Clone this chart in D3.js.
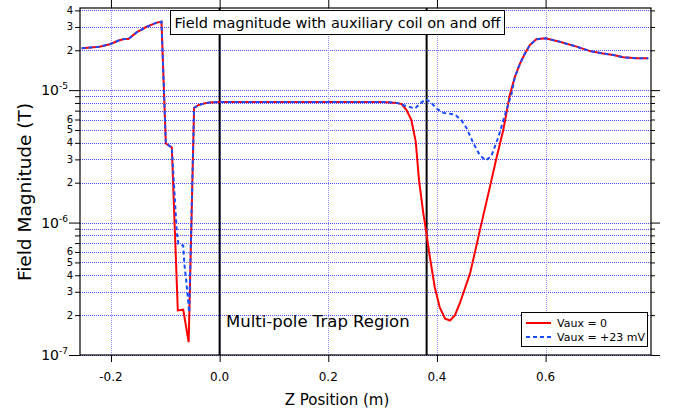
<!DOCTYPE html>
<html>
<head>
<meta charset="utf-8">
<script src="https://cdn.jsdelivr.net/npm/d3@7.9.0/dist/d3.min.js"></script>
<style>
  body { margin: 0; background: #fff; }
  text { font-family: "DejaVu Sans", sans-serif; fill: #000; }
</style>
</head>
<body>
<svg id="chart" width="675" height="417"></svg>
<script>
// Vaux = 0 (solid red)
const zVaux0 = [-0.254,-0.221,-0.202,-0.187,-0.176,-0.168,-0.153,-0.134,-0.116,-0.107,
  -0.099,-0.088,-0.077,-0.067,-0.057,-0.047,-0.039,-0.027,-0.018,0.0,
  0.1,0.2,0.3,0.326,0.335,0.344,0.353,0.361,0.367,0.375,
  0.378,0.387,0.396,0.405,0.415,0.424,0.433,0.442,0.461,0.479,
  0.4975,0.51,0.522,0.534,0.5435,0.553,0.562,0.571,0.583,0.6,
  0.626,0.657,0.682,0.706,0.725,0.743,0.768,0.789];
const bVaux0 = [2.07e-5,2.13e-5,2.22e-5,2.36e-5,2.43e-5,2.43e-5,2.73e-5,3.01e-5,3.23e-5,3.29e-5,
  3.95e-6,3.69e-6,2.17e-7,2.2e-7,1.25e-7,7.35e-6,7.7e-6,7.97e-6,8.07e-6,8.15e-6,
  8.15e-6,8.15e-6,8.15e-6,8.01e-6,7.84e-6,7.06e-6,5.93e-6,4.07e-6,2.09e-6,1.17e-6,
  9.8e-7,5.48e-7,3.25e-7,2.3e-7,1.88e-7,1.82e-7,1.99e-7,2.45e-7,4.13e-7,8.73e-7,
  1.86e-6,3.13e-6,4.98e-6,9.17e-6,1.26e-5,1.59e-5,1.89e-5,2.19e-5,2.42e-5,2.46e-5,
  2.32e-5,2.13e-5,1.97e-5,1.89e-5,1.84e-5,1.77e-5,1.74e-5,1.74e-5];

// Vaux = +23 mV (dashed blue)
const zVaux23 = [-0.254,-0.221,-0.202,-0.187,-0.176,-0.168,-0.153,-0.134,-0.116,-0.107,
  -0.099,-0.088,-0.079,-0.076,-0.067,-0.065,-0.0615,-0.056,-0.047,-0.039,
  -0.027,-0.018,0.0,0.1,0.2,0.3,0.326,0.344,0.3595,0.369,
  0.38,0.39,0.399,0.412,0.433,0.445,0.455,0.467,0.479,0.49,
  0.5,0.513,0.525,0.5375,0.5435,0.553,0.562,0.571,0.583,0.6,
  0.626,0.657,0.682,0.706,0.725,0.743,0.768,0.789];
const bVaux23 = [2.07e-5,2.13e-5,2.22e-5,2.36e-5,2.43e-5,2.43e-5,2.73e-5,3.01e-5,3.23e-5,3.29e-5,
  3.95e-6,3.69e-6,8.7e-7,6.9e-7,6.7e-7,4.9e-7,3.66e-7,2.1e-7,7.35e-6,7.7e-6,
  7.97e-6,8.07e-6,8.15e-6,8.15e-6,8.15e-6,8.15e-6,8.01e-6,7.57e-6,7.27e-6,7.93e-6,
  8.55e-6,8.01e-6,7.27e-6,6.73e-6,6.55e-6,5.93e-6,5.13e-6,3.97e-6,3.22e-6,2.95e-6,
  3.17e-6,4.41e-6,6.47e-6,9.44e-6,1.26e-5,1.59e-5,1.89e-5,2.19e-5,2.42e-5,2.46e-5,
  2.32e-5,2.13e-5,1.97e-5,1.89e-5,1.84e-5,1.77e-5,1.74e-5,1.74e-5];

const xTicks = [-0.2, 0.0, 0.2, 0.4, 0.6];
const regionEdges = [0.0, 0.381];
const minorLabels = [2, 3, 4, 5, 6];
const legendLabels = ["Vaux = 0", "Vaux = +23 mV"];
const chartTitle = "Field magnitude with auxiliary coil on and off";
const regionLabel = "Multi-pole Trap Region";

const svg = d3.select("#chart");
const pL = 80, pR = 651, pT = 8, pB = 355;

const x = d3.scaleLinear().domain([-0.257, 0.794]).range([pL, pR]);
const y = d3.scaleLog().domain([1e-7, 4.17e-5]).range([pB, pT]);

const yAll = y.ticks();
const isMajor = v => Math.abs(Math.log10(v) - Math.round(Math.log10(v))) < 1e-6;
const yMajor = yAll.filter(isMajor);
const yMinor = yAll.filter(v => !isMajor(v));
const mant = v => Math.round(v / Math.pow(10, Math.floor(Math.log10(v) + 1e-9)));

// grid
const grid = svg.append("g").attr("stroke", "#4d4dff").attr("stroke-width", 1)
  .attr("stroke-dasharray", "1,1");
grid.selectAll("line.h").data(yAll).enter().append("line")
  .attr("x1", pL).attr("x2", pR)
  .attr("y1", d => Math.round(y(d)) + 0.5).attr("y2", d => Math.round(y(d)) + 0.5);
grid.selectAll("line.v").data(xTicks).enter().append("line")
  .attr("stroke", "#8f8fff")
  .attr("y1", pT).attr("y2", pB)
  .attr("x1", d => Math.round(x(d)) + 0.5).attr("x2", d => Math.round(x(d)) + 0.5);

// axes ticks
function ticks(axis, vals, size, tx) {
  const g = svg.append("g").attr("transform", tx)
    .call(axis.tickValues(vals).tickSize(size).tickFormat(""));
  g.select(".domain").remove();
  g.selectAll("line").attr("stroke", "#000");
  return g;
}
ticks(d3.axisLeft(y), yMajor, 11, `translate(${pL},0)`);
ticks(d3.axisLeft(y), yMinor, 5, `translate(${pL},0)`);
ticks(d3.axisRight(y), yMajor, 9, `translate(${pR},0)`);
ticks(d3.axisRight(y), yMinor, 4, `translate(${pR},0)`);
ticks(d3.axisBottom(x), xTicks, 7, `translate(0,${pB})`);
ticks(d3.axisTop(x), xTicks, 8, `translate(0,${pT})`);

// y labels
yMajor.forEach(v => {
  const t = svg.append("text").attr("x", 68).attr("y", y(v) + 5)
    .attr("text-anchor", "end").style("font-size", "14px");
  t.append("tspan").text("10");
  t.append("tspan").attr("dy", -6).style("font-size", "9px")
    .text(Math.round(Math.log10(v)));
});
yMinor.filter(v => minorLabels.includes(mant(v))).forEach(v => {
  svg.append("text").attr("x", 73).attr("y", y(v) + 3.5)
    .attr("text-anchor", "end").style("font-size", "10px").text(mant(v));
});

// x labels
xTicks.forEach(v => {
  svg.append("text").attr("x", x(v)).attr("y", 381)
    .attr("text-anchor", "middle").style("font-size", "12px")
    .text(v.toFixed(1));
});

// region edges
svg.selectAll("line.edge").data(regionEdges).enter().append("line")
  .attr("x1", d => x(d)).attr("x2", d => x(d)).attr("y1", pT).attr("y2", pB)
  .attr("stroke", "#000").attr("stroke-width", 2);

// curves
svg.append("clipPath").attr("id", "clip").append("rect")
  .attr("x", pL).attr("y", pT).attr("width", pR - pL).attr("height", pB - pT);
const line = d3.line().x(d => x(d[0])).y(d => y(d[1]));
const plot = svg.append("g").attr("clip-path", "url(#clip)");
plot.append("path").datum(d3.zip(zVaux0, bVaux0)).attr("d", line)
  .attr("fill", "none").attr("stroke", "#ff0000").attr("stroke-width", 2);
plot.append("path").datum(d3.zip(zVaux23, bVaux23)).attr("d", line)
  .attr("fill", "none").attr("stroke", "#1a4dff").attr("stroke-width", 2)
  .attr("stroke-dasharray", "4,3");

// frame
svg.append("rect").attr("x", pL).attr("y", pT).attr("width", pR - pL)
  .attr("height", pB - pT).attr("fill", "none").attr("stroke", "#000").attr("stroke-width", 1.2);

// title box
svg.append("rect").attr("x", 170.5).attr("y", 10.5).attr("width", 334).attr("height", 24)
  .attr("fill", "#fff").attr("stroke", "#000").attr("stroke-width", 1);
svg.append("text").attr("x", 337.5).attr("y", 28).attr("text-anchor", "middle")
  .style("font-size", "14.5px").text(chartTitle);

// region label
svg.append("text").attr("x", 226).attr("y", 327).style("font-size", "16.5px").text(regionLabel);

// axis titles
svg.append("text").attr("x", 337).attr("y", 405).attr("text-anchor", "middle")
  .style("font-size", "15px").text("Z Position (m)");
svg.append("text").attr("transform", "translate(31,192) rotate(-90)")
  .attr("text-anchor", "middle").style("font-size", "18.5px").text("Field Magnitude (T)");

// legend
const lg = svg.append("g");
lg.append("rect").attr("x", 521.5).attr("y", 312.5).attr("width", 126).attr("height", 34)
  .attr("fill", "#fff").attr("stroke", "#000").attr("stroke-width", 1);
const legendStyle = [{ c: "#ff0000", dash: null }, { c: "#1a4dff", dash: "4,3" }];
legendLabels.forEach((lab, i) => {
  const yy = 323 + i * 14;
  lg.append("line").attr("x1", 526).attr("x2", 551).attr("y1", yy).attr("y2", yy)
    .attr("stroke", legendStyle[i].c).attr("stroke-width", 2)
    .attr("stroke-dasharray", legendStyle[i].dash);
  lg.append("text").attr("x", 557).attr("y", yy + 4).style("font-size", "11px").text(lab);
});
</script>
</body>
</html>
